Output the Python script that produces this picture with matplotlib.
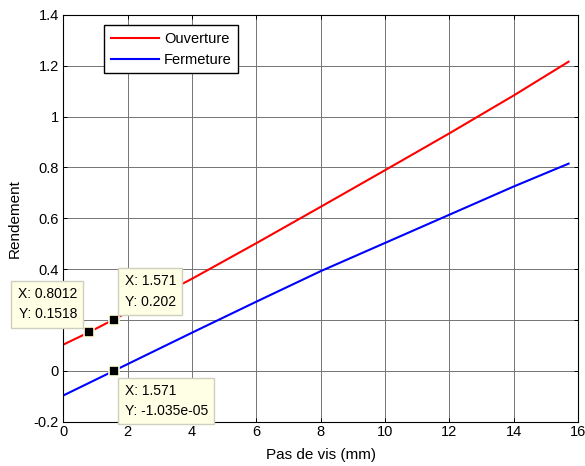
import numpy as np
import matplotlib
matplotlib.use('Agg')
import matplotlib.pyplot as plt

plt.rcParams['font.family'] = ['Liberation Sans', 'DejaVu Sans']
plt.rcParams['font.size'] = 10.5

# pitch (mm) and efficiency
x_ouv = [0, 0.8012, 1.571, 4, 6, 8, 10, 12, 14, 15.708]
y_ouv = [0.103, 0.1518, 0.202, 0.362, 0.502, 0.645, 0.789, 0.934, 1.083, 1.216]
x_fer = [0, 1.571, 4, 6, 8, 10, 12, 14, 15.708]
y_fer = [-0.097, -1.035e-05, 0.150, 0.272, 0.392, 0.503, 0.614, 0.725, 0.815]

# data tips (x, y, label)
tips_x = [0.8012, 1.571, 1.571]
tips_y = [0.1518, 0.202, -1.035e-05]
tips_txt = ['X: 0.8012\nY: 0.1518', 'X: 1.571\nY: 0.202', 'X: 1.571\nY: -1.035e-05']

fig = plt.figure(figsize=(5.85, 4.66), dpi=100)
ax = fig.add_axes([0.108, 0.095, 0.880, 0.873])

ax.plot(x_ouv, y_ouv, color='red', lw=1.5, label='Ouverture')
ax.plot(x_fer, y_fer, color='blue', lw=1.5, label='Fermeture')

ax.set_xlim(0, 16)
ax.set_ylim(-0.2, 1.4)
ax.set_xticks(np.arange(0, 17, 2))
ax.set_yticks(np.arange(-0.2, 1.41, 0.2))
ax.set_yticklabels(['-0.2', '0', '0.2', '0.4', '0.6', '0.8', '1', '1.2', '1.4'])
ax.grid(True, color='0.45', lw=0.7)
ax.tick_params(direction='in', length=3, top=True, right=True, width=0.7, labelsize=10.5)
ax.tick_params(axis='y', pad=3)
ax.tick_params(axis='x', pad=2)
for s in ax.spines.values():
    s.set_linewidth(0.8)
ax.set_xlabel('Pas de vis (mm)', fontsize=11, labelpad=7)
ax.set_ylabel('Rendement', fontsize=11, labelpad=9)

leg = ax.legend(loc='upper left', bbox_to_anchor=(0.08, 0.975), borderaxespad=0,
                fancybox=False, edgecolor='black', framealpha=1, fontsize=10.5,
                handlelength=3.3, handletextpad=0.35, labelspacing=0.5, borderpad=0.45)
leg.get_frame().set_linewidth(1.0)

# data tips
offsets = [(-12, 11, 'right', 'bottom'), (11, 11, 'left', 'bottom'), (11, -13, 'left', 'top')]
for x, y, t, (dx, dy, ha, va) in zip(tips_x, tips_y, tips_txt, offsets):
    ax.plot(x, y, 's', ms=7, mfc='black', mec='#FFFFE1', mew=1.2, zorder=6, clip_on=False)
    ax.annotate(t, xy=(x, y), xytext=(dx, dy), textcoords='offset pixels',
                ha=ha, va=va, linespacing=1.55, zorder=7, annotation_clip=False, fontsize=10,
                bbox=dict(boxstyle='square,pad=0.45', fc='#FFFFE6', ec='#CFCFC0', lw=1))

fig.savefig('out.png', dpi=100)
